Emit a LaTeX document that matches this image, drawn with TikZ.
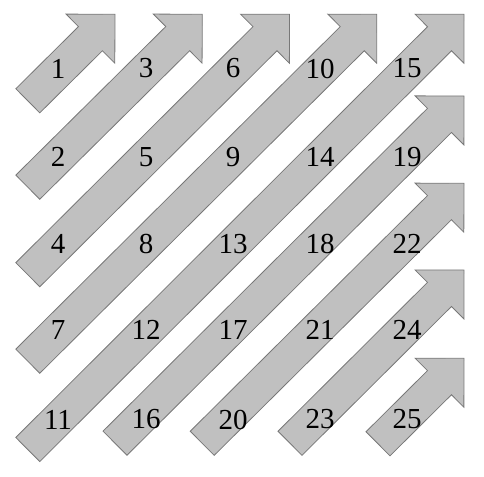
\documentclass[tikz,border=0pt]{standalone}
\usepackage{fontspec}
\setmainfont{Liberation Serif}
\usetikzlibrary{calc}
\definecolor{arrowfill}{RGB}{192,192,192}
\definecolor{arrowline}{RGB}{120,120,120}
\tikzset{
  arrowbox/.style={fill=arrowfill,draw=arrowline,line width=0.8pt,line join=miter},
  numlabel/.style={inner sep=0pt,font=\fontsize{29}{29}\selectfont}
}
\begin{document}
\begin{tikzpicture}[x=1pt,y=-1pt]
\useasboundingbox (0,0) rectangle (484,476);
\foreach \k/\tx/\ty/\px/\py in {
  1/27.8/100.8/115/14.3,
  2/27.8/187.2/202.3/14.3,
  3/27.8/274.7/289.5/14.3,
  4/27.8/361.2/376.8/14.3,
  5/27.8/449.5/464/14.3,
  6/115/443.2/464/96,
  7/202.2/443.3/464/183.3,
  8/290/443.3/464/270,
  9/378/443.8/464/358.3}{
  \coordinate (T\k) at (\tx,\ty);
  \coordinate (P\k) at (\px,\py);
  \coordinate (B\k) at ($(P\k)!34.6pt!(T\k)$);
  \draw[arrowbox]
    ($(T\k)!17pt!90:(P\k)$) -- ($(B\k)!17pt!90:(P\k)$) -- ($(B\k)!34.6pt!90:(P\k)$)
    -- (P\k) -- ($(B\k)!34.6pt!-90:(P\k)$) -- ($(B\k)!17pt!-90:(P\k)$)
    -- ($(T\k)!17pt!-90:(P\k)$) -- cycle;
}
% labels
\node[numlabel] (n1)  at (58,68.5) {1};
\node[numlabel] (n3)  at (146,68.5) {3};
\node[numlabel] (n6)  at (233,68.5) {6};
\node[numlabel] (n10) at (320,68.5) {10};
\node[numlabel] (n15) at (407,68.5) {15};
\node[numlabel] (n2)  at (58,157) {2};
\node[numlabel] (n5)  at (146,157) {5};
\node[numlabel] (n9)  at (233,157) {9};
\node[numlabel] (n14) at (320,157) {14};
\node[numlabel] (n19) at (407,157) {19};
\node[numlabel] (n4)  at (58,244) {4};
\node[numlabel] (n8)  at (146,244) {8};
\node[numlabel] (n13) at (233,244) {13};
\node[numlabel] (n18) at (320,244) {18};
\node[numlabel] (n22) at (407,244) {22};
\node[numlabel] (n7)  at (58,330) {7};
\node[numlabel] (n12) at (146,330) {12};
\node[numlabel] (n17) at (233,330) {17};
\node[numlabel] (n21) at (320,330) {21};
\node[numlabel] (n24) at (407,330) {24};
\node[numlabel] (n11) at (58,419.5) {11};
\node[numlabel] (n16) at (146,419.5) {16};
\node[numlabel] (n20) at (233,419.5) {20};
\node[numlabel] (n23) at (320,419.5) {23};
\node[numlabel] (n25) at (407,419.5) {25};
\end{tikzpicture}
\end{document}
